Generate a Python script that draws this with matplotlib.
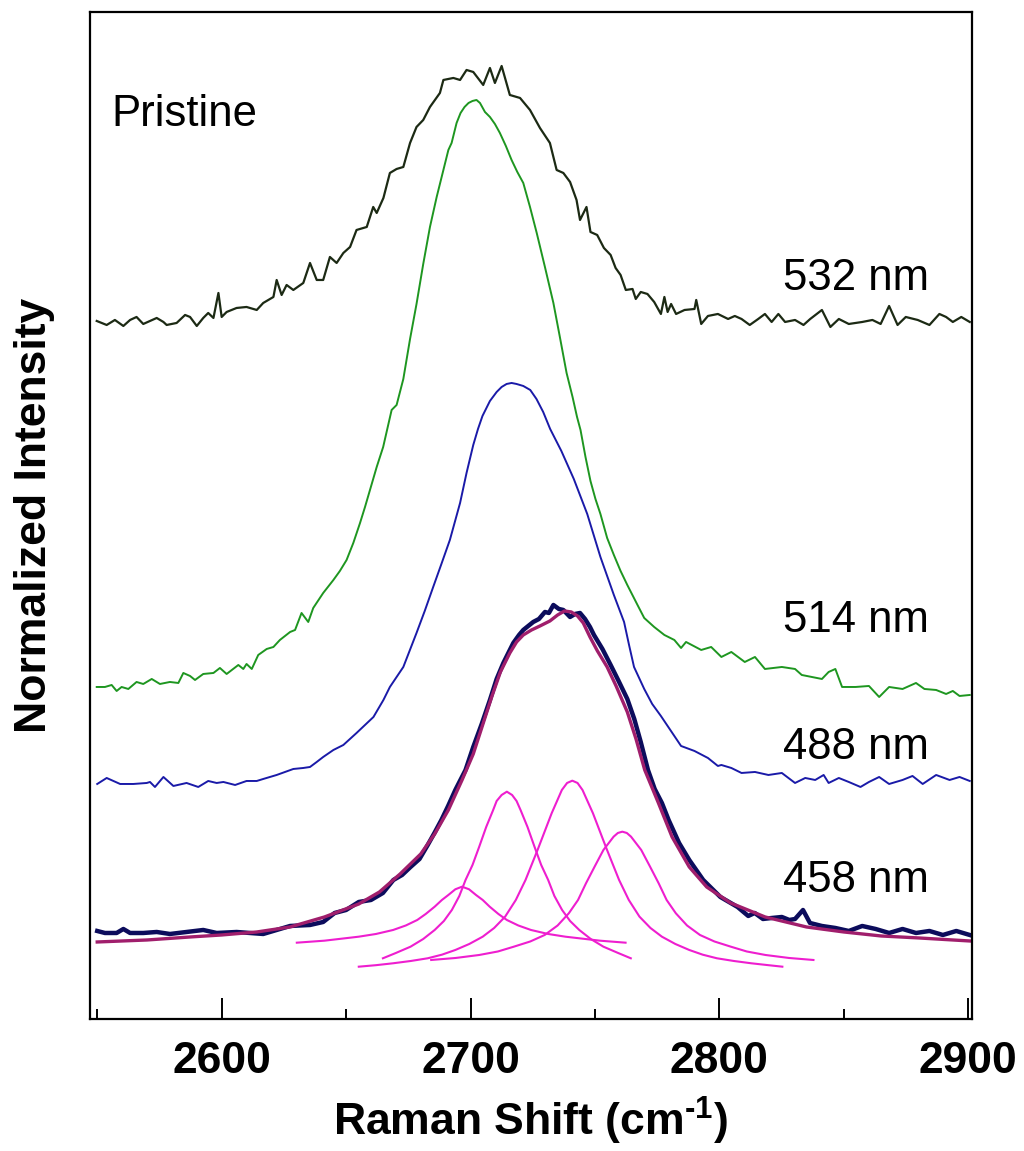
import matplotlib
matplotlib.use('Agg')
import matplotlib.pyplot as plt
from matplotlib.ticker import MultipleLocator

# Raman 2D band, pristine sample, four laser lines
# 532 nm spectrum
x_532 = [2549.8, 2553.8, 2557.1, 2560.5, 2563.2, 2565.8, 2568.5, 2571.2, 2573.9, 2576.6,
         2577.9, 2581.9, 2585.3, 2587.3, 2590.0, 2592.6, 2594.6, 2596.7, 2598.7, 2600.0,
         2602.0, 2606.0, 2610.0, 2614.1, 2616.7, 2620.8, 2622.1, 2624.1, 2626.1, 2628.8,
         2632.8, 2635.5, 2638.2, 2640.8, 2643.5, 2646.2, 2648.9, 2651.6, 2654.2, 2658.3,
         2660.9, 2662.3, 2665.0, 2667.6, 2670.3, 2673.0, 2675.7, 2678.3, 2681.0, 2683.7,
         2687.7, 2689.1, 2693.1, 2695.8, 2698.4, 2701.1, 2705.1, 2707.8, 2709.8, 2712.5,
         2715.8, 2719.9, 2723.9, 2727.9, 2731.9, 2734.6, 2737.3, 2740.0, 2742.6, 2744.0,
         2746.6, 2748.2, 2750.9, 2753.6, 2756.3, 2758.3, 2760.3, 2762.4, 2765.1, 2766.4,
         2768.4, 2771.1, 2773.8, 2776.5, 2777.9, 2779.2, 2780.6, 2782.6, 2786.0, 2790.0,
         2790.7, 2792.7, 2795.4, 2799.4, 2803.5, 2806.2, 2808.9, 2812.2, 2815.6, 2818.3,
         2821.0, 2823.7, 2826.4, 2830.4, 2833.8, 2836.5, 2841.2, 2844.6, 2848.0, 2852.0,
         2857.4, 2861.5, 2864.8, 2868.2, 2871.6, 2874.9, 2879.7, 2884.4, 2888.4, 2891.1,
         2893.8, 2897.2, 2900.6]
y_532 = [6.98, 6.94, 6.99, 6.93, 6.99, 7.02, 6.95, 6.98, 7.01, 6.97,
         6.94, 6.96, 7.04, 7.02, 6.93, 7.01, 7.06, 7.01, 7.26, 7.02,
         7.07, 7.11, 7.12, 7.09, 7.16, 7.22, 7.39, 7.24, 7.34, 7.29,
         7.36, 7.56, 7.39, 7.39, 7.62, 7.56, 7.66, 7.72, 7.89, 7.92,
         8.12, 8.06, 8.21, 8.46, 8.50, 8.52, 8.76, 8.92, 8.99, 9.12,
         9.26, 9.39, 9.41, 9.39, 9.49, 9.47, 9.34, 9.51, 9.36, 9.53,
         9.24, 9.21, 9.09, 8.91, 8.76, 8.49, 8.46, 8.37, 8.19, 7.99,
         8.12, 7.87, 7.84, 7.71, 7.64, 7.51, 7.44, 7.29, 7.30, 7.20,
         7.27, 7.25, 7.17, 7.05, 7.22, 7.07, 7.15, 7.05, 7.09, 7.10,
         7.19, 6.95, 7.03, 7.05, 7.00, 7.03, 7.00, 6.94, 7.00, 7.05,
         6.97, 7.05, 6.97, 6.99, 6.94, 7.00, 7.09, 6.92, 7.00, 6.95,
         6.97, 6.99, 6.95, 7.13, 6.94, 7.02, 6.99, 6.94, 7.05, 7.02,
         6.97, 7.02, 6.97]

# 514 nm spectrum
x_514 = [2549.8, 2553.1, 2555.8, 2557.8, 2559.8, 2562.5, 2565.8, 2568.5, 2571.9, 2575.2,
         2579.2, 2582.6, 2584.6, 2587.3, 2589.3, 2592.6, 2596.7, 2599.3, 2602.0, 2606.7,
         2608.7, 2610.0, 2612.1, 2614.7, 2618.1, 2620.8, 2623.4, 2627.5, 2629.5, 2632.1,
         2634.8, 2636.8, 2640.8, 2644.9, 2647.5, 2650.2, 2652.9, 2655.6, 2657.6, 2659.6,
         2662.3, 2664.9, 2668.3, 2670.3, 2673.0, 2675.7, 2678.3, 2681.0, 2683.7, 2686.4,
         2689.1, 2691.1, 2692.4, 2694.4, 2696.0, 2697.6, 2699.2, 2700.8, 2702.4, 2703.8,
         2705.8, 2707.8, 2709.8, 2711.8, 2714.2, 2716.5, 2718.8, 2721.2, 2723.9, 2726.6,
         2729.9, 2733.3, 2735.9, 2738.6, 2741.0, 2742.8, 2744.2, 2746.2, 2748.2, 2750.2,
         2752.2, 2754.9, 2757.6, 2760.3, 2763.0, 2767.1, 2769.8, 2773.8, 2777.9, 2781.9,
         2784.6, 2786.6, 2792.7, 2796.7, 2800.8, 2804.8, 2810.2, 2814.3, 2818.3, 2825.1,
         2830.4, 2833.1, 2841.2, 2843.9, 2846.6, 2849.3, 2854.7, 2860.1, 2864.2, 2868.2,
         2873.6, 2879.0, 2882.4, 2887.1, 2891.1, 2893.8, 2896.5, 2900.6]
y_514 = [3.32, 3.32, 3.34, 3.28, 3.32, 3.30, 3.37, 3.35, 3.40, 3.35,
         3.37, 3.36, 3.46, 3.43, 3.39, 3.45, 3.46, 3.51, 3.45, 3.54,
         3.50, 3.55, 3.50, 3.64, 3.70, 3.72, 3.79, 3.87, 3.89, 4.06,
         3.97, 4.11, 4.26, 4.39, 4.48, 4.59, 4.76, 4.96, 5.12, 5.29,
         5.52, 5.72, 6.09, 6.14, 6.40, 6.80, 7.15, 7.55, 7.92, 8.22,
         8.49, 8.69, 8.76, 8.96, 9.06, 9.12, 9.16, 9.18, 9.19, 9.16,
         9.07, 9.02, 8.95, 8.86, 8.73, 8.59, 8.47, 8.36, 8.12, 7.86,
         7.52, 7.16, 6.82, 6.46, 6.22, 6.02, 5.89, 5.62, 5.38, 5.20,
         5.05, 4.81, 4.64, 4.48, 4.34, 4.14, 4.01, 3.92, 3.84, 3.79,
         3.71, 3.77, 3.69, 3.72, 3.62, 3.67, 3.57, 3.62, 3.50, 3.52,
         3.50, 3.44, 3.40, 3.47, 3.50, 3.32, 3.32, 3.33, 3.22, 3.32,
         3.30, 3.36, 3.30, 3.29, 3.25, 3.28, 3.23, 3.24]

# 488 nm spectrum
x_488 = [2550.0, 2553.8, 2556.5, 2559.2, 2564.5, 2569.9, 2571.2, 2573.2, 2576.6, 2580.6,
         2585.9, 2590.6, 2594.6, 2598.0, 2600.7, 2605.4, 2610.0, 2614.1, 2616.7, 2622.1,
         2628.8, 2632.8, 2635.5, 2638.2, 2640.8, 2644.9, 2648.9, 2654.2, 2661.0, 2665.0,
         2667.6, 2673.0, 2678.3, 2681.6, 2685.0, 2688.3, 2691.7, 2695.8, 2698.4, 2701.1,
         2703.0, 2704.8, 2707.8, 2710.5, 2712.5, 2714.5, 2716.5, 2718.5, 2721.2, 2724.0,
         2726.5, 2729.2, 2732.0, 2736.5, 2741.5, 2746.9, 2752.2, 2757.6, 2761.7, 2763.7,
         2765.7, 2769.8, 2773.0, 2776.5, 2781.9, 2784.6, 2790.0, 2795.4, 2799.4, 2800.8,
         2804.8, 2808.9, 2814.3, 2819.7, 2825.1, 2830.4, 2834.5, 2838.5, 2841.9, 2843.9,
         2848.0, 2852.0, 2856.7, 2860.1, 2864.2, 2868.2, 2873.6, 2877.6, 2881.7, 2887.1,
         2892.5, 2896.5, 2900.6]
y_488 = [2.35, 2.41, 2.38, 2.35, 2.35, 2.36, 2.37, 2.32, 2.42, 2.33,
         2.36, 2.32, 2.38, 2.36, 2.37, 2.34, 2.38, 2.38, 2.40, 2.44,
         2.50, 2.51, 2.52, 2.57, 2.62, 2.69, 2.74, 2.86, 3.02, 3.19,
         3.32, 3.52, 3.86, 4.08, 4.32, 4.55, 4.79, 5.16, 5.46, 5.74,
         5.90, 6.03, 6.18, 6.27, 6.32, 6.35, 6.36, 6.35, 6.33, 6.29,
         6.20, 6.07, 5.90, 5.68, 5.40, 5.05, 4.62, 4.24, 3.97, 3.74,
         3.52, 3.30, 3.15, 3.03, 2.83, 2.73, 2.68, 2.61, 2.53, 2.54,
         2.51, 2.46, 2.47, 2.44, 2.46, 2.36, 2.41, 2.39, 2.44, 2.36,
         2.41, 2.37, 2.32, 2.37, 2.42, 2.35, 2.39, 2.43, 2.35, 2.44,
         2.39, 2.42, 2.38]

# 458 nm spectrum
x_458 = [2550.0, 2553.1, 2557.8, 2560.5, 2563.2, 2568.5, 2573.9, 2579.2, 2585.9, 2592.6,
         2598.0, 2606.0, 2616.7, 2622.1, 2627.5, 2635.5, 2640.8, 2645.4, 2650.0, 2655.1,
         2660.0, 2664.8, 2669.0, 2672.5, 2675.9, 2679.5, 2682.8, 2685.5, 2688.3, 2691.0,
         2693.9, 2698.0, 2701.1, 2704.5, 2707.8, 2710.5, 2713.2, 2717.2, 2719.5, 2721.2,
         2725.2, 2727.5, 2729.9, 2731.5, 2733.3, 2735.5, 2737.3, 2740.0, 2742.0, 2744.0,
         2746.0, 2748.0, 2749.6, 2753.0, 2756.3, 2759.5, 2763.0, 2765.8, 2768.4, 2771.3,
         2774.0, 2776.9, 2779.6, 2783.8, 2787.9, 2793.5, 2800.4, 2807.3, 2811.6, 2814.2,
         2817.5, 2821.1, 2825.1, 2828.1, 2830.4, 2833.6, 2836.4, 2841.2, 2846.6, 2852.0,
         2857.4, 2862.8, 2868.2, 2873.6, 2879.0, 2884.4, 2889.8, 2895.2, 2900.6]
y_458 = [0.88, 0.86, 0.86, 0.90, 0.86, 0.86, 0.87, 0.85, 0.87, 0.89,
         0.86, 0.87, 0.85, 0.89, 0.93, 0.94, 0.97, 1.06, 1.09, 1.17,
         1.19, 1.26, 1.39, 1.44, 1.52, 1.60, 1.74, 1.86, 1.99, 2.13,
         2.29, 2.49, 2.72, 2.95, 3.19, 3.40, 3.56, 3.76, 3.84, 3.89,
         3.97, 4.00, 4.07, 4.06, 4.14, 4.10, 4.09, 4.02, 4.05, 4.06,
         4.00, 3.92, 3.84, 3.70, 3.54, 3.38, 3.20, 3.00, 2.77, 2.49,
         2.30, 2.16, 1.99, 1.76, 1.59, 1.39, 1.22, 1.12, 1.03, 1.06,
         1.00, 1.01, 1.02, 0.99, 1.00, 1.09, 0.96, 0.93, 0.91, 0.88,
         0.93, 0.90, 0.86, 0.90, 0.86, 0.88, 0.84, 0.88, 0.84]

# cumulative fit of the 458 nm band
x_fit = [2550.0, 2570.0, 2587.3, 2600.0, 2614.1, 2627.5, 2641.3, 2655.1, 2663.4, 2671.7,
         2680.0, 2685.6, 2691.1, 2696.6, 2701.1, 2705.0, 2708.5, 2712.0, 2715.8, 2718.5,
         2721.2, 2724.5, 2727.9, 2731.9, 2735.0, 2737.8, 2740.5, 2743.0, 2745.3, 2748.0,
         2751.0, 2754.9, 2758.5, 2763.0, 2766.5, 2770.0, 2775.5, 2781.0, 2787.9, 2794.9,
         2804.5, 2818.4, 2835.0, 2850.0, 2865.0, 2880.3, 2900.6]
y_fit = [0.77, 0.79, 0.82, 0.84, 0.87, 0.92, 1.02, 1.15, 1.27, 1.45,
         1.65, 1.85, 2.09, 2.39, 2.65, 2.95, 3.22, 3.47, 3.66, 3.77,
         3.84, 3.89, 3.93, 3.98, 4.04, 4.08, 4.07, 4.03, 3.96, 3.82,
         3.68, 3.52, 3.33, 3.07, 2.80, 2.49, 2.16, 1.82, 1.52, 1.32,
         1.16, 1.02, 0.92, 0.87, 0.83, 0.81, 0.78]

# four fitted components
x_c1 = [2630.2, 2641.3, 2655.1, 2662.0, 2668.9, 2674.0, 2678.6, 2682.0, 2685.6, 2688.5,
        2691.1, 2693.9, 2696.6, 2699.4, 2702.2, 2704.9, 2707.7, 2711.2, 2714.6, 2719.2,
        2724.3, 2731.2, 2738.1, 2752.0, 2762.3]
y_c1 = [0.763, 0.783, 0.823, 0.850, 0.890, 0.935, 0.990, 1.050, 1.123, 1.190,
        1.240, 1.297, 1.323, 1.297, 1.240, 1.190, 1.123, 1.050, 0.990, 0.935,
        0.890, 0.850, 0.823, 0.783, 0.763]
x_c2 = [2664.8, 2670.0, 2675.9, 2681.0, 2685.6, 2689.3, 2692.5, 2695.5, 2698.0, 2700.8,
        2703.5, 2706.3, 2709.1, 2710.5, 2712.5, 2714.6, 2716.7, 2718.5, 2720.1, 2722.9,
        2725.7, 2728.4, 2731.2, 2733.7, 2736.8, 2740.0, 2743.7, 2748.3, 2753.4, 2759.3,
        2764.4]
y_c2 = [0.607, 0.660, 0.723, 0.800, 0.890, 0.980, 1.090, 1.230, 1.390, 1.540,
        1.723, 1.920, 2.090, 2.180, 2.240, 2.273, 2.240, 2.180, 2.090, 1.920,
        1.723, 1.540, 1.390, 1.230, 1.090, 0.980, 0.890, 0.800, 0.723, 0.660,
        0.607]
x_c3 = [2655.1, 2662.0, 2668.9, 2676.0, 2682.8, 2688.5, 2693.9, 2699.5, 2704.9, 2709.5,
        2713.9, 2718.2, 2722.1, 2727.1, 2732.6, 2736.7, 2738.8, 2740.9, 2743.0, 2745.0,
        2749.2, 2754.7, 2759.7, 2763.6, 2767.9, 2772.3, 2776.9, 2782.3, 2787.9, 2793.3,
        2799.0, 2805.8, 2812.8, 2819.7, 2825.3]
y_c3 = [0.523, 0.538, 0.557, 0.580, 0.607, 0.643, 0.690, 0.750, 0.823, 0.910,
        1.023, 1.190, 1.390, 1.700, 2.057, 2.290, 2.360, 2.383, 2.360, 2.290,
        2.057, 1.700, 1.390, 1.190, 1.023, 0.910, 0.823, 0.750, 0.690, 0.643,
        0.607, 0.580, 0.557, 0.538, 0.523]
x_c4 = [2684.2, 2694.0, 2703.5, 2711.0, 2717.4, 2724.0, 2729.8, 2735.0, 2739.5, 2743.2,
        2746.4, 2750.0, 2753.4, 2757.5, 2759.2, 2761.0, 2762.8, 2764.5, 2768.6, 2772.0,
        2775.6, 2778.8, 2782.5, 2787.0, 2792.2, 2798.0, 2804.6, 2811.0, 2818.5, 2828.0,
        2837.8]
y_c4 = [0.590, 0.610, 0.640, 0.675, 0.723, 0.775, 0.840, 0.935, 1.057, 1.190,
        1.357, 1.530, 1.690, 1.823, 1.860, 1.873, 1.860, 1.823, 1.690, 1.530,
        1.357, 1.190, 1.057, 0.935, 0.840, 0.775, 0.723, 0.675, 0.640, 0.610,
        0.590]

labels = ['532 nm', '514 nm', '488 nm', '458 nm']
label_y = [7.29, 3.87, 2.60, 1.265]

plt.rcParams['font.family'] = 'Liberation Sans'
plt.rcParams['mathtext.fontset'] = 'custom'
plt.rcParams['mathtext.rm'] = 'Liberation Sans:bold'
plt.rcParams['mathtext.bf'] = 'Liberation Sans:bold'

fig = plt.figure(figsize=(10.24, 11.51), dpi=100)
ax = fig.add_axes([0.0879, 0.1147, 0.8613, 0.8749])

# spectra
ax.plot(x_532, y_532, color='#1c2a14', lw=1.6)
ax.plot(x_514, y_514, color='#1e9620', lw=1.4)
ax.plot(x_488, y_488, color='#1a1aa8', lw=1.4)
ax.plot(x_458, y_458, color='#0c0c5c', lw=3.2)
ax.plot(x_fit, y_fit, color='#a01e6c', lw=2.4)
for xc, yc in [(x_c1, y_c1), (x_c2, y_c2), (x_c3, y_c3), (x_c4, y_c4)]:
    ax.plot(xc, yc, color='#ee1ecf', lw=1.5)

# text labels
ax.text(2555.8, 8.93, 'Pristine', fontsize=31.5, va='baseline', ha='left')
for lab, ly in zip(labels, label_y):
    ax.text(2825.5, ly, lab, fontsize=31.5, va='baseline', ha='left')

ax.set_xlim(2547.1, 2901.5)
ax.set_ylim(0, 10.07)

# axis style
for sp in ax.spines.values():
    sp.set_linewidth(1.6)
ax.xaxis.set_major_locator(MultipleLocator(100))
ax.xaxis.set_minor_locator(MultipleLocator(50))
ax.tick_params(axis='x', which='major', direction='in', length=15, width=1.4,
               labelsize=32, pad=16)
ax.tick_params(axis='x', which='minor', direction='in', length=7, width=1.4)
ax.set_yticks([])
for t in ax.get_xticklabels():
    t.set_fontweight('bold')

ax.set_xlabel(r'Raman Shift (cm$^{\text{-1}}$)', fontsize=32, fontweight='bold')
ax.xaxis.set_label_coords(0.5, -0.075)
ax.set_ylabel('Normalized Intensity', fontsize=32, fontweight='bold')
ax.yaxis.set_label_coords(-0.04, 0.5)

plt.savefig('out.png', dpi=100)
plt.close()
